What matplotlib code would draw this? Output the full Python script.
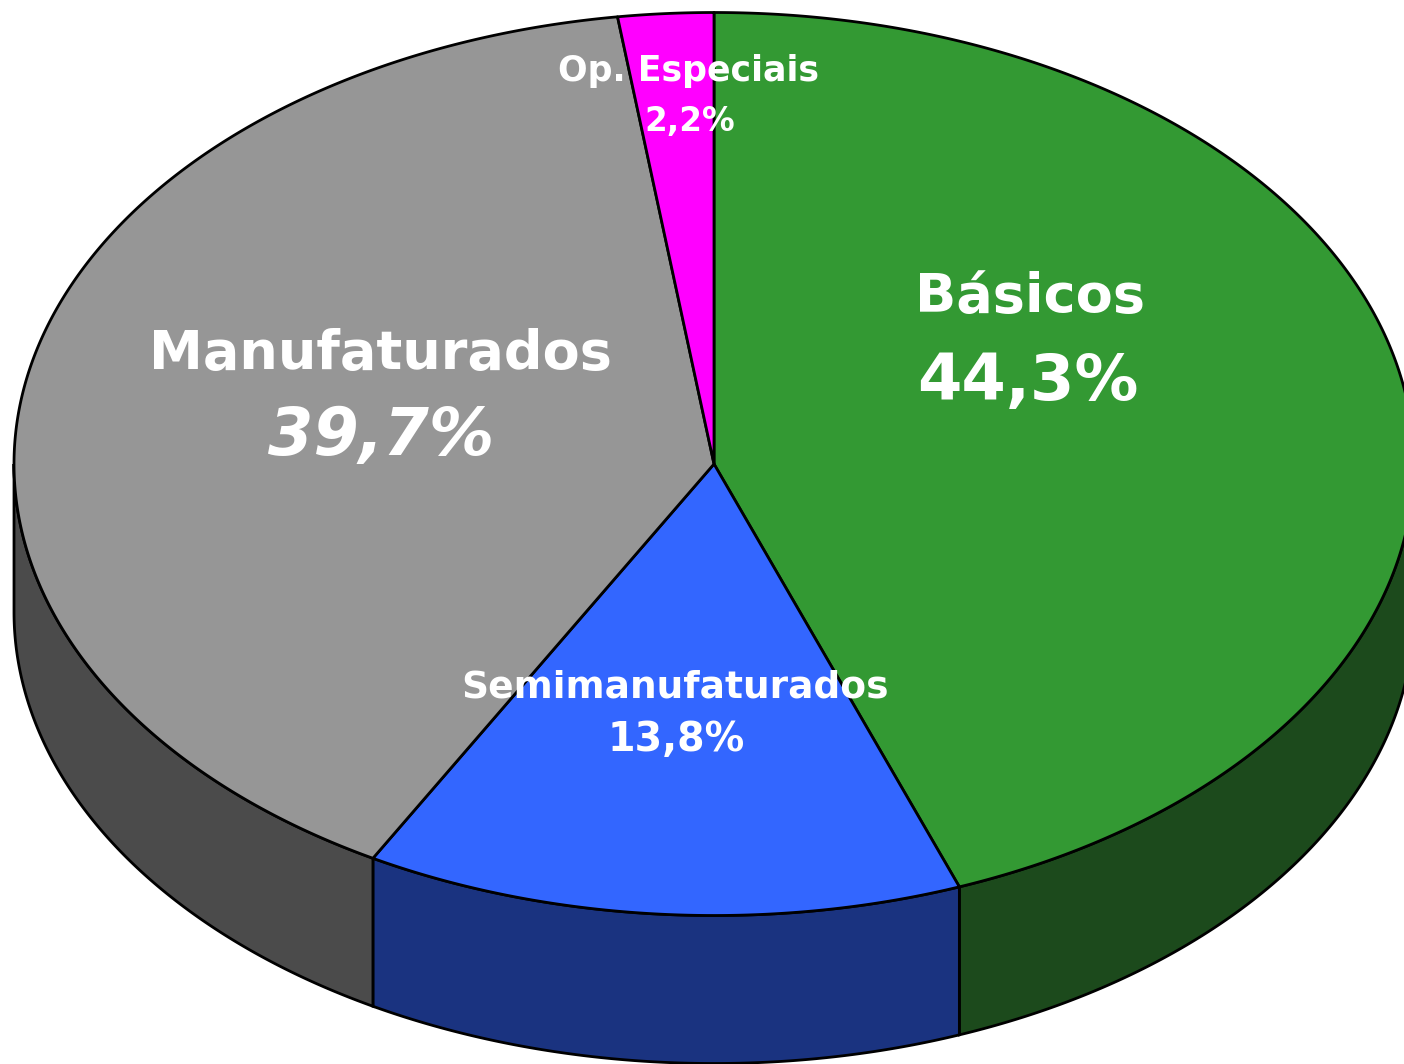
import numpy as np
import matplotlib
matplotlib.use("Agg")
import matplotlib.pyplot as plt
from matplotlib.patches import Polygon

# --- data ---
categories = ["Básicos", "Semimanufaturados", "Manufaturados", "Op. Especiais"]
shares = [44.3, 13.8, 39.7, 2.2]
labels = ["44,3%", "13,8%", "39,7%", "2,2%"]
top_colors = ["#339933", "#3366ff", "#969696", "#ff00ff"]
side_colors = ["#1c4a1c", "#1a3380", "#4b4b4b", "#800080"]

# --- geometry of the 3D pie (pixel units) ---
CX, CY = 714, 464
RX, RY = 700, 451.5
DEPTH = 148

fig = plt.figure(figsize=(14.04, 10.64), dpi=100)
ax = fig.add_axes([0, 0, 1, 1])
ax.set_xlim(0, 1404)
ax.set_ylim(1064, 0)
ax.axis("off")


def ell(theta, dy=0):
    # theta in degrees, standard math orientation (screen y goes down)
    t = np.radians(theta)
    return np.column_stack([CX + RX * np.cos(t), CY - RY * np.sin(t) + dy])


# angles: start at 12 o'clock, go clockwise
fracs = np.array(shares) / sum(shares)
ends = 90 - 360 * np.cumsum(fracs)
starts = np.concatenate([[90], ends[:-1]])

# side walls (only the front half, angles between -180 and 0)
for a0, a1, sc in zip(starts, ends, side_colors):
    lo, hi = min(a0, a1), max(a0, a1)
    for shift in (0, -360, 360):
        l, h = max(lo + shift, -180), min(hi + shift, 0)
        if h > l:
            th = np.linspace(l, h, 200)
            top = ell(th)
            bot = ell(th[::-1], DEPTH)
            ax.add_patch(Polygon(np.vstack([top, bot]), closed=True,
                                 facecolor=sc, edgecolor="black", lw=2, zorder=1))

# top faces
for a0, a1, tc in zip(starts, ends, top_colors):
    th = np.linspace(a0, a1, 400)
    pts = np.vstack([[CX, CY], ell(th)])
    ax.add_patch(Polygon(pts, closed=True, facecolor=tc, edgecolor="black",
                         lw=2, joinstyle="round", zorder=2))

# labels
txt = dict(color="white", fontweight="bold", ha="center", va="center",
           family="DejaVu Sans", zorder=5)
ax.text(1030, 297, categories[0], fontsize=39, **txt)
ax.text(1028, 382, labels[0], fontsize=46, **txt)
ax.text(381, 354, categories[2], fontsize=39, **txt)
ax.text(381, 437, labels[2], fontsize=47, style="italic", **txt)
ax.text(675, 688, categories[1], fontsize=27, **txt)
ax.text(676, 740, labels[1], fontsize=28.5, **txt)
ax.text(688, 71, categories[3], fontsize=25, **txt)
ax.text(690, 121, labels[3], fontsize=23.5, **txt)

fig.savefig("out.png", dpi=100)
